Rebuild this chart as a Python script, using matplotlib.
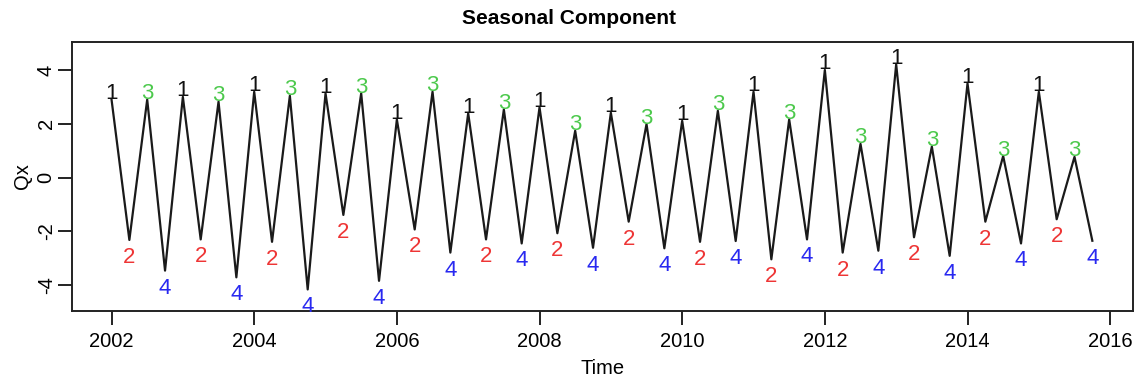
import matplotlib
matplotlib.use("Agg")
import matplotlib.pyplot as plt
import numpy as np

start_year = 2002
quarters = ["1", "2", "3", "4"]
seasonal = [
    2.90, -2.32, 2.90, -3.46,   # 2002
    3.00, -2.30, 2.82, -3.71,   # 2003
    3.19, -2.39, 3.04, -4.16,   # 2004
    3.13, -1.39, 3.13, -3.84,   # 2005
    2.16, -1.93, 3.19, -2.79,   # 2006
    2.39, -2.30, 2.53, -2.45,   # 2007
    2.61, -2.07, 1.74, -2.61,   # 2008
    2.41, -1.64, 1.99, -2.63,   # 2009
    2.11, -2.39, 2.48, -2.36,   # 2010
    3.19, -3.04, 2.16, -2.30,   # 2011
    4.00, -2.79, 1.25, -2.72,   # 2012
    4.21, -2.22, 1.15, -2.91,   # 2013
    3.50, -1.64, 0.80, -2.45,   # 2014
    3.19, -1.55, 0.77, -2.35,   # 2015
]
quarter_colors = ["#111111", "#EE3535", "#4CC94C", "#2828F0"]
x_ticks = [2002, 2004, 2006, 2008, 2010, 2012, 2014, 2016]
y_ticks = [-4, -2, 0, 2, 4]

plt.rcParams['font.family'] = ['Liberation Sans', 'DejaVu Sans']

W, H = 1138, 380
fig = plt.figure(figsize=(W / 100, H / 100), dpi=100)
ax = fig.add_axes([72.3 / W, 1 - 310.7 / H, (1133 - 72.3) / W, (310.7 - 41.7) / H])

t = start_year + np.arange(len(seasonal)) / 4.0
ax.plot(t, seasonal, color="#1a1a1a", lw=1.6)

px = 72.0 / 100.0
for i, (ti, v) in enumerate(zip(t, seasonal)):
    q = i % 4
    if q in (0, 2):
        ax.annotate(quarters[q], (ti, v), xytext=(0, 0.5 * px), textcoords="offset points",
                    ha="center", va="baseline", color=quarter_colors[q], fontsize=16)
    else:
        ax.annotate(quarters[q], (ti, v), xytext=(0, -7 * px), textcoords="offset points",
                    ha="center", va="top", color=quarter_colors[q], fontsize=16)

ax.set_xlim(2001.45, 2016.32)
ax.set_ylim(-4.95, 5.05)
ax.set_xticks(x_ticks)
ax.set_yticks(y_ticks)
ax.set_xticklabels([str(v) for v in x_ticks], fontsize=14.5)
ax.set_yticklabels([str(v) for v in y_ticks], fontsize=14.5, rotation=90, va="center")
ax.tick_params(axis="both", direction="out", length=10, width=1.4, color="#222222")
ax.tick_params(axis="x", pad=5)
ax.tick_params(axis="y", pad=2)
for s in ax.spines.values():
    s.set_linewidth(1.4)
    s.set_color("#222222")

ax.set_xlabel("Time", fontsize=14.5, labelpad=6)
ax.set_ylabel("Qx", fontsize=14.5, labelpad=3)
fig.text(569 / W, 1 - 18 / H, "Seasonal Component", ha="center", va="center",
         fontsize=15, fontweight="bold")

fig.savefig("out.png", dpi=100)
